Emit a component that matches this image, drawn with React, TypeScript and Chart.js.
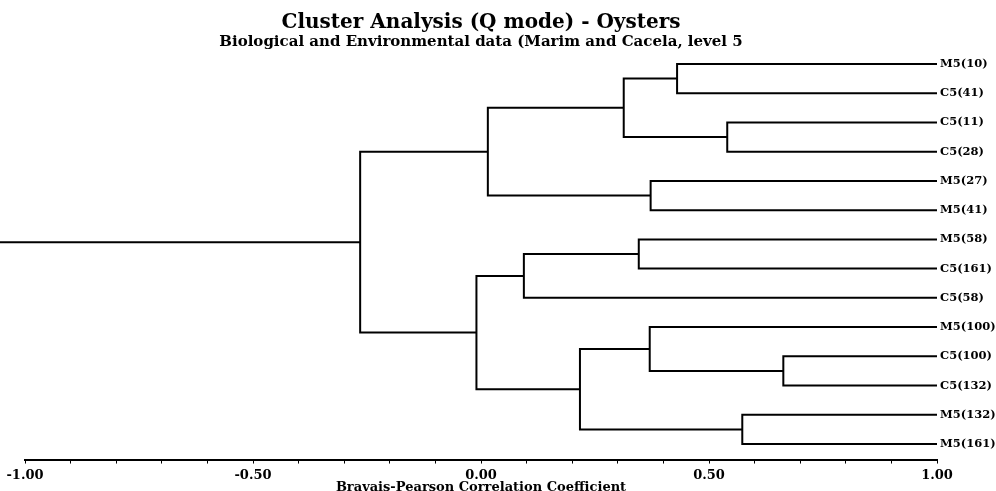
import React, { useEffect, useRef } from "react";
import { Chart, registerables } from "chart.js";

Chart.register(...registerables);

// Leaves, top to bottom
const leafLabels = [
  "M5(10)", "C5(41)", "C5(11)", "C5(28)", "M5(27)", "M5(41)", "M5(58)",
  "C5(161)", "C5(58)", "M5(100)", "C5(100)", "C5(132)", "M5(132)", "M5(161)",
];
// Merges: node ids 0..13 are leaves, each merge creates node 14, 15, ...
const mergeLeft = [0, 2, 14, 4, 16, 6, 19, 10, 9, 12, 22, 20, 18];
const mergeRight = [1, 3, 15, 5, 17, 7, 8, 11, 21, 13, 23, 24, 25];
const mergeLevel = [0.43, 0.54, 0.313, 0.372, 0.015, 0.346, 0.094, 0.663, 0.37, 0.573, 0.217, -0.01, -0.265];
const leafLevel = 1.0;
const rootTail = -1.055;
const xTickLabels = [-1, -0.5, 0, 0.5, 1];

const TITLE = "Cluster Analysis (Q mode) - Oysters";
const SUBTITLE = "Biological and Environmental data (Marim and Cacela, level 5";
const X_TITLE = "Bravais-Pearson Correlation Coefficient";

const FONT = "'DejaVu Serif', 'Liberation Serif', serif";

export default function App() {
  const ref = useRef<HTMLCanvasElement | null>(null);

  useEffect(() => {
    document.body.style.margin = "0";
    const canvas = ref.current;
    if (!canvas) return;

    const nodeX: number[] = leafLabels.map(() => leafLevel);
    const nodeY: number[] = leafLabels.map((_, i) => i);
    const datasets: any[] = [];
    const lineStyle = {
      borderColor: "#000",
      backgroundColor: "#000",
      borderWidth: 2,
      pointRadius: 0,
      showLine: true,
      tension: 0,
      clip: false,
      fill: false,
    };
    mergeLevel.forEach((h, k) => {
      const a = mergeLeft[k];
      const b = mergeRight[k];
      datasets.push({
        ...lineStyle,
        data: [
          { x: nodeX[a], y: nodeY[a] },
          { x: h, y: nodeY[a] },
          { x: h, y: nodeY[b] },
          { x: nodeX[b], y: nodeY[b] },
        ],
      });
      nodeX.push(h);
      nodeY.push((nodeY[a] + nodeY[b]) / 2);
    });
    const root = nodeX.length - 1;
    datasets.push({
      ...lineStyle,
      data: [
        { x: nodeX[root], y: nodeY[root] },
        { x: rootTail, y: nodeY[root] },
      ],
    });

    Chart.defaults.color = "#000";

    const chart = new Chart(canvas, {
      type: "scatter",
      data: { datasets },
      options: {
        animation: false,
        responsive: false,
        events: [],
        layout: { padding: { left: 25, right: 0, top: 0, bottom: 2.8 } },
        plugins: {
          legend: { display: false },
          tooltip: { enabled: false },
          title: {
            display: true,
            text: TITLE,
            fullSize: false,
            color: "#000",
            font: { family: FONT, size: 20, weight: "bold", lineHeight: 1.1 },
            padding: { top: 12, bottom: 0 },
          },
          subtitle: {
            display: true,
            text: SUBTITLE,
            fullSize: false,
            color: "#000",
            font: { family: FONT, size: 15, weight: "bold", lineHeight: 1.1 },
            padding: { top: 0, bottom: 0 },
          },
        },
        scales: {
          x: {
            type: "linear",
            min: -1,
            max: 1,
            ticks: {
              stepSize: 0.1,
              autoSkip: false,
              maxRotation: 0,
              padding: 5.5,
              color: "#000",
              font: { family: FONT, size: 13, weight: "bold", lineHeight: 1.0 },
              callback: (v: any) => {
                const r = Math.round(Number(v) * 100) / 100 + 0;
                return xTickLabels.some((t) => Math.abs(t - r) < 1e-6) ? r.toFixed(2) : "";
              },
            },
            grid: {
              display: true,
              drawOnChartArea: false,
              drawTicks: true,
              tickLength: 4,
              color: "#000",
              lineWidth: 1,
            },
            border: { display: true, color: "#000", width: 2 },
            title: {
              display: true,
              text: X_TITLE,
              color: "#000",
              font: { family: FONT, size: 13, weight: "bold", lineHeight: 0.05 },
              padding: { top: 0, bottom: 0 },
            },
          },
          y: {
            type: "linear",
            position: "right",
            reverse: true,
            min: -0.462,
            max: 13.532,
            afterBuildTicks: (axis: any) => {
              axis.ticks = leafLabels.map((_, i) => ({ value: i }));
            },
            afterFit: (axis: any) => {
              axis.width = 59;
            },
            ticks: {
              autoSkip: false,
              padding: 3,
              color: "#000",
              font: { family: FONT, size: 11.5, weight: "bold" },
              callback: (v: any) => leafLabels[Math.round(Number(v))] ?? "",
            },
            grid: { display: false, drawTicks: false },
            border: { display: false },
          },
        },
      },
    });
    return () => chart.destroy();
  }, []);

  return (
    <div style={{ width: 996, height: 491, background: "#fff" }}>
      <canvas ref={ref} width={996} height={491} style={{ display: "block" }} />
    </div>
  );
}
